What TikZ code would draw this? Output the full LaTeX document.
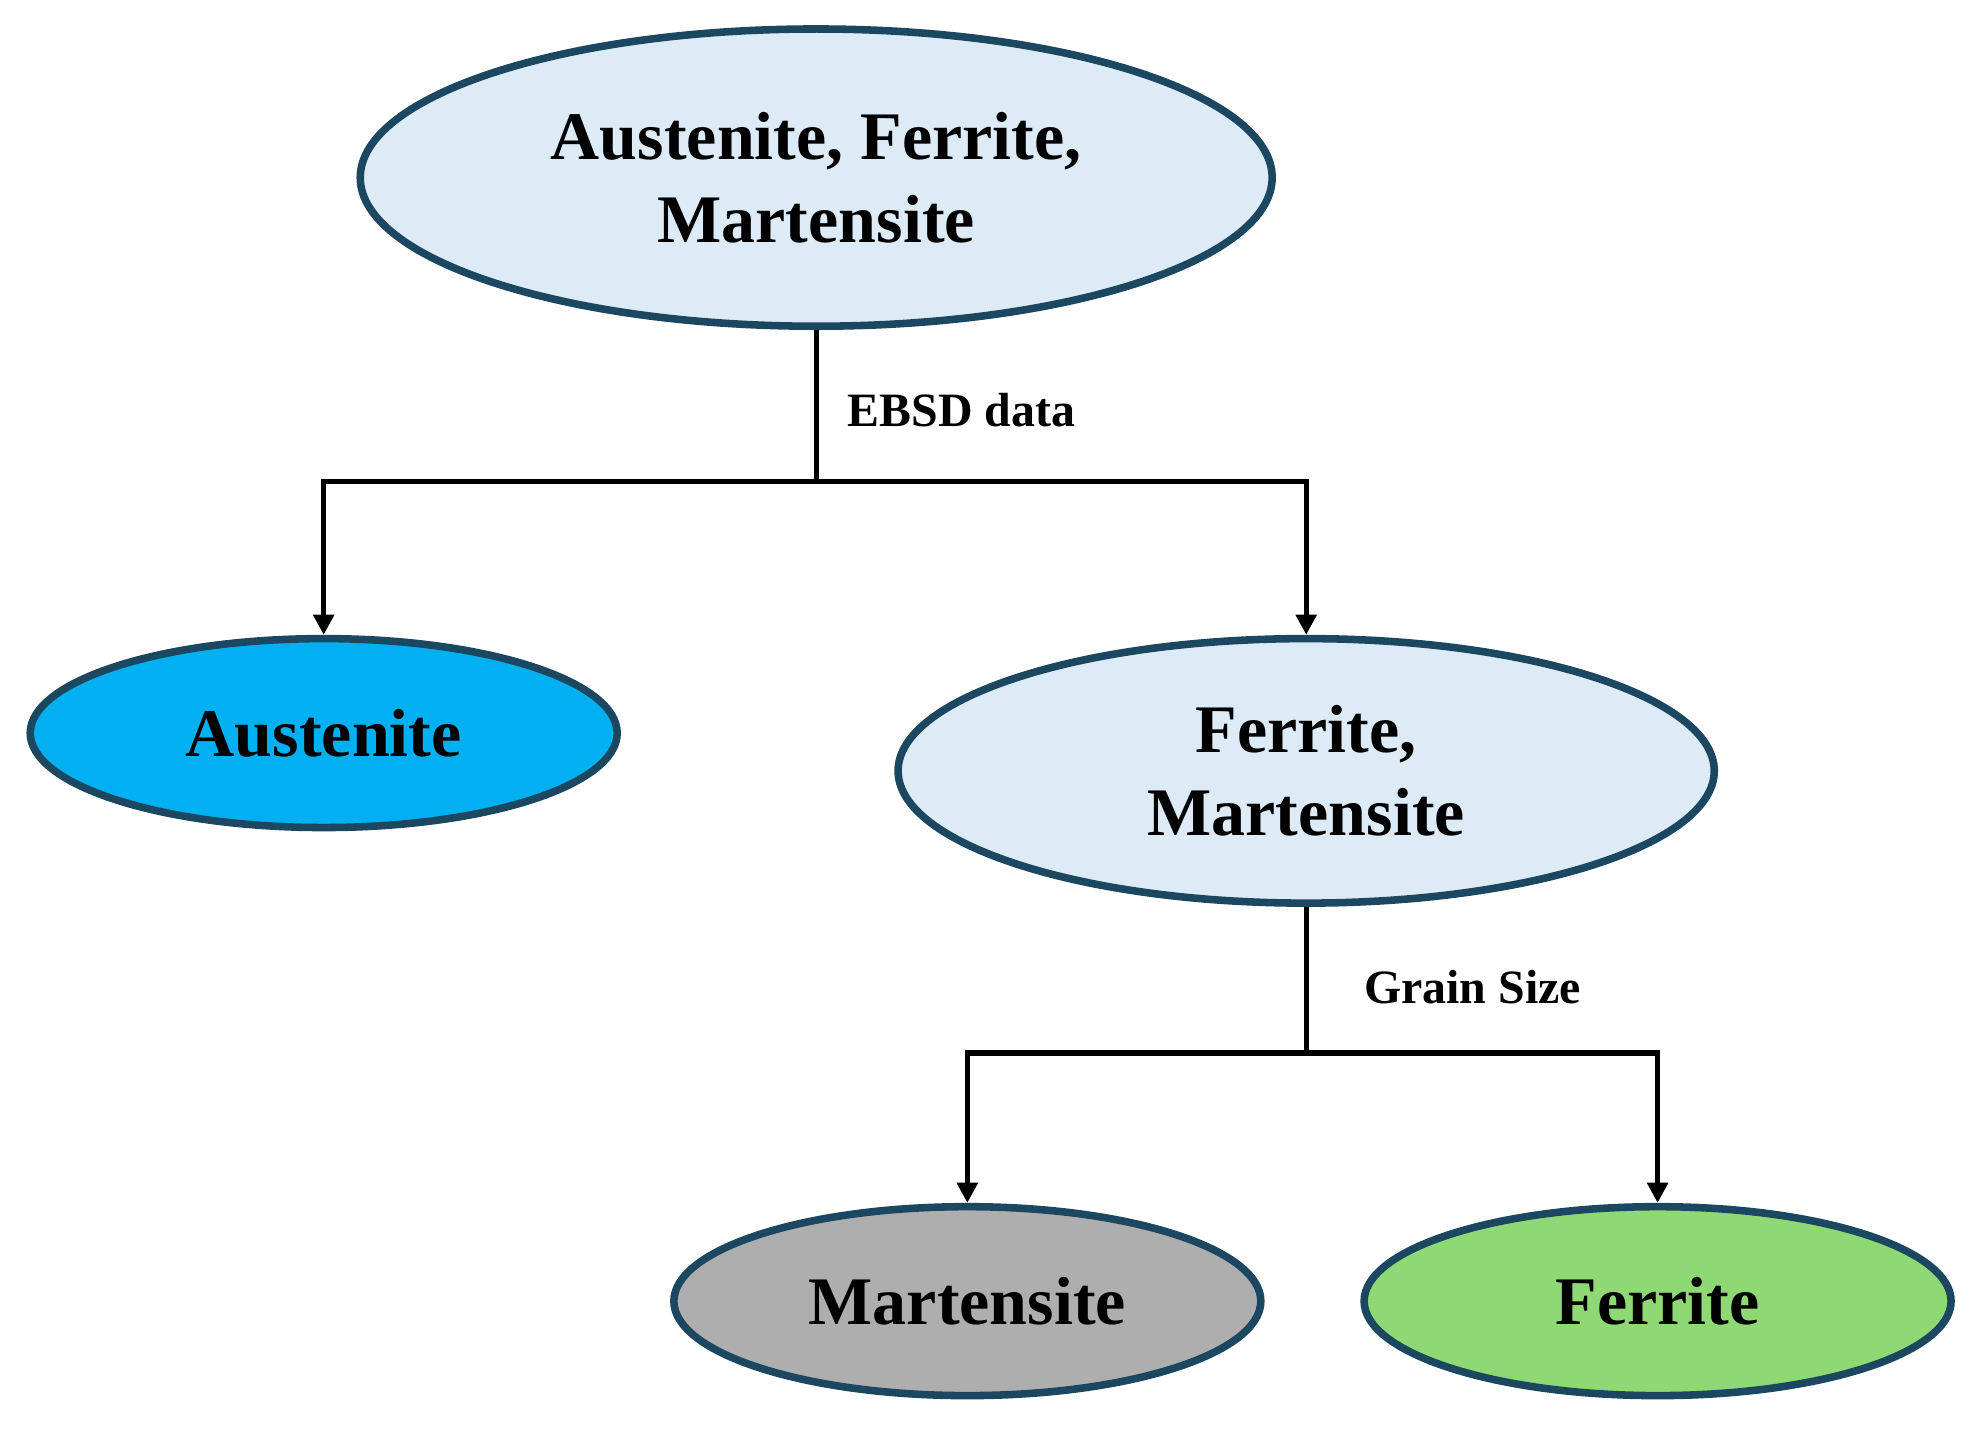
\documentclass[tikz,border=0pt]{standalone}
\usepackage{fontspec}
\setmainfont{Liberation Serif}
\usetikzlibrary{shapes.geometric,arrows.meta}
\definecolor{edge}{HTML}{1B4760}
\definecolor{lightb}{HTML}{DDEBF7}
\definecolor{aust}{HTML}{00B0F0}
\definecolor{mart}{HTML}{AEAEAE}
\definecolor{ferr}{HTML}{8FD974}
\begin{document}
\begin{tikzpicture}[x=0.5pt,y=-0.5pt,
  el/.style={ellipse,draw=edge,line width=3pt,inner sep=0pt,align=center,font=\fontsize{27}{33}\selectfont\bfseries},
  conn/.style={line width=2pt,draw=black},
  arr/.style={conn,-{Triangle[length=8pt,width=8pt]}},
  lab/.style={font=\fontsize{19}{22}\selectfont\bfseries,anchor=west}]
\useasboundingbox (0,0) rectangle (1568,1135);
\node[el,fill=lightb,minimum width=362pt,minimum height=118pt] (top) at (648,141) {Austenite, Ferrite,\\Martensite};
\node[el,fill=aust,minimum width=233pt,minimum height=75pt] (aus) at (257,582) {Austenite};
\node[el,fill=lightb,minimum width=324pt,minimum height=105pt] (fm) at (1037,612) {Ferrite,\\Martensite};
\node[el,fill=mart,minimum width=233pt,minimum height=75pt] (mar) at (768,1033) {Martensite};
\node[el,fill=ferr,minimum width=233pt,minimum height=75pt] (fer) at (1316,1033) {Ferrite};
\coordinate (j1) at (648,382);
\coordinate (j2) at (1037,836);
\draw[conn] (top.south) -- (j1);
\draw[arr] (j1) -| (aus.north);
\draw[arr] (j1) -| (fm.north);
\draw[conn] (fm.south) -- (j2);
\draw[arr] (j2) -| (mar.north);
\draw[arr] (j2) -| (fer.north);
\node[lab] (l1) at (666,326) {EBSD data};
\node[lab] (l2) at (1076,784) {Grain Size};
\end{tikzpicture}
\end{document}
